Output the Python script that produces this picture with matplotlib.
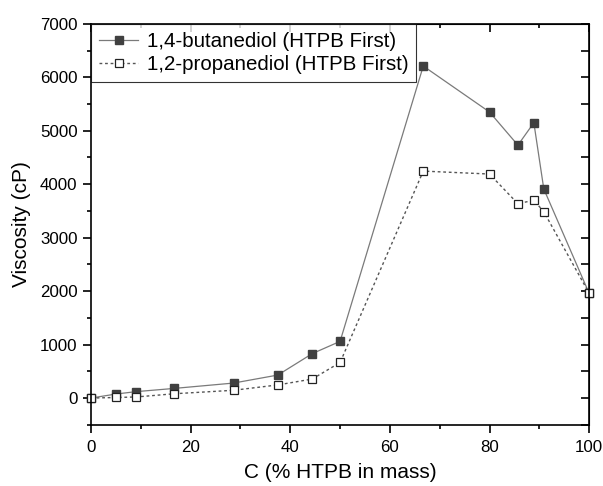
import matplotlib.pyplot as plt
from matplotlib.ticker import MultipleLocator

plt.rcParams['font.family'] = ['Liberation Sans', 'DejaVu Sans']

c_mass = [0, 5, 9.1, 16.7, 28.6, 37.5, 44.4, 50, 66.7, 80, 85.7, 88.9, 90.9, 100]
butanediol = [0, 75, 120, 180, 280, 430, 830, 1060, 6210, 5350, 4730, 5150, 3910, 1960]
propanediol = [0, 10, 20, 80, 145, 245, 355, 665, 4245, 4190, 3635, 3700, 3485, 1960]

fig = plt.figure(figsize=(6.03, 4.86), dpi=100)
ax = fig.add_axes([0.151, 0.126, 0.826, 0.825])

ax.plot(c_mass, butanediol, '-', color='#7a7a7a', lw=0.9, marker='s', ms=6,
        mfc='#404040', mec='#404040', label='1,4-butanediol (HTPB First)', clip_on=False)
ax.plot(c_mass, propanediol, color='#555555', lw=1.0, dashes=(2, 2), marker='s', ms=6,
        mfc='white', mec='#222222', mew=0.9, label='1,2-propanediol (HTPB First)', clip_on=False)

ax.set_xlim(0, 100)
ax.set_ylim(-500, 7000)
ax.xaxis.set_major_locator(MultipleLocator(20))
ax.xaxis.set_minor_locator(MultipleLocator(10))
ax.yaxis.set_major_locator(MultipleLocator(1000))
ax.yaxis.set_minor_locator(MultipleLocator(500))

ax.tick_params(which='both', direction='out', labelsize=12.2, width=1.2)
ax.tick_params(which='major', length=5.5)
ax.tick_params(which='minor', length=3)
ax.tick_params(axis='x', pad=5.3)
ax.tick_params(axis='y', pad=4.3)
for s in ax.spines.values():
    s.set_linewidth(1.2)

# mirrored inward ticks on top and right
top = ax.secondary_xaxis('top')
top.xaxis.set_major_locator(MultipleLocator(20))
top.xaxis.set_minor_locator(MultipleLocator(10))
top.tick_params(which='both', direction='in', labeltop=False, width=1.2)
top.tick_params(which='major', length=5.5)
top.tick_params(which='minor', length=3)
right = ax.secondary_yaxis('right')
right.yaxis.set_major_locator(MultipleLocator(1000))
right.yaxis.set_minor_locator(MultipleLocator(500))
right.tick_params(which='both', direction='in', labelright=False, width=1.2)
right.tick_params(which='major', length=5.5)
right.tick_params(which='minor', length=5.5)

ax.set_xlabel('C (% HTPB in mass)', fontsize=15, labelpad=6)
ax.set_ylabel('Viscosity (cP)', fontsize=15, labelpad=6)

leg = ax.legend(loc='upper left', fontsize=14.8, frameon=True, fancybox=False,
                edgecolor='black', borderaxespad=0, handlelength=1.9,
                borderpad=0.4, labelspacing=0.2, handletextpad=0.4)
leg.get_frame().set_linewidth(0.8)

plt.savefig('out.png', dpi=100)
